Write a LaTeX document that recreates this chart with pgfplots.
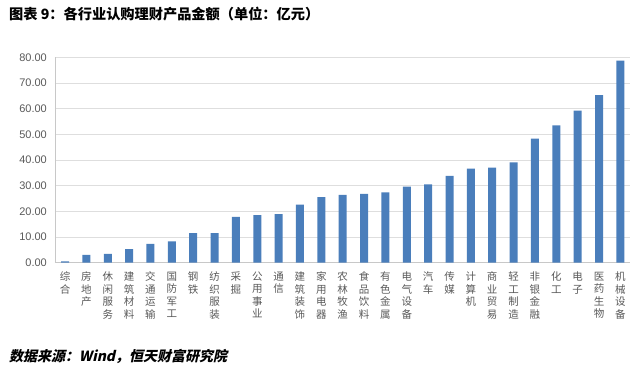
\documentclass[border=0pt]{standalone}
\usepackage{fontspec}
\usepackage{pgfplots}
\pgfplotsset{compat=1.18}
\setmainfont{Liberation Sans}
\newfontfamily\cjk{Noto Sans CJK SC}
\newfontfamily\cjkslant[FakeSlant=0.22]{Noto Sans CJK SC}
\definecolor{barblue}{RGB}{74,126,187}
\definecolor{gridgray}{RGB}{222,222,222}
\definecolor{axisgray}{RGB}{200,200,200}
\definecolor{labgray}{RGB}{89,89,89}
\begin{document}
\begin{tikzpicture}[x=1pt,y=1pt]
\useasboundingbox (0pt,0pt) rectangle (640pt,371pt);
\node[anchor=west, inner sep=0pt, font=\cjk\bfseries\fontsize{14.2}{16}\selectfont] at (9pt,357pt) {图表 9：各行业认购理财产品金额（单位：亿元）};
\node[anchor=west, inner sep=0pt, font=\cjkslant\bfseries\fontsize{14}{16}\selectfont] at (9pt,15pt) {数据来源：Wind，恒天财富研究院};
\begin{axis}[
 at={(55pt,108.3pt)}, anchor=south west,
 width=575pt, height=205.4pt, scale only axis,
 xmin=-0.47, xmax=26.45, ymin=0, ymax=80,
 ybar, bar width=8pt,
 axis lines*=left,
 axis line style={draw=axisgray, -},
 ymajorgrids, major grid style={draw=gridgray},
 major tick length=0pt,
 ytick={0,10,20,30,40,50,60,70,80},
 yticklabels={0.00,10.00,20.00,30.00,40.00,50.00,60.00,70.00,80.00},
 yticklabel style={font=\fontsize{11}{12}\selectfont, text=labgray, anchor=east, inner sep=0pt, xshift=-8pt},
 xtick={0,1,...,26},
 xticklabels={{综\\合},{房\\地\\产},{休\\闲\\服\\务},{建\\筑\\材\\料},{交\\通\\运\\输},{国\\防\\军\\工},{钢\\铁},{纺\\织\\服\\装},{采\\掘},{公\\用\\事\\业},{通\\信},{建\\筑\\装\\饰},{家\\用\\电\\器},{农\\林\\牧\\渔},{食\\品\\饮\\料},{有\\色\\金\\属},{电\\气\\设\\备},{汽\\车},{传\\媒},{计\\算\\机},{商\\业\\贸\\易},{轻\\工\\制\\造},{非\\银\\金\\融},{化\\工},{电\\子},{医\\药\\生\\物},{机\\械\\设\\备}},
 xticklabel style={font=\cjk\fontsize{10.5}{12.5}\selectfont, text=labgray, align=center, anchor=north, inner sep=0pt, yshift=-9pt},
 clip=false,
]
\addplot[fill=barblue, draw=none] coordinates {
(0,0.5) (1,3.0) (2,3.4) (3,5.3) (4,7.3) (5,8.3) (6,11.5) (7,11.5) (8,17.8) (9,18.5)
(10,18.9) (11,22.6) (12,25.5) (13,26.4) (14,26.8) (15,27.4) (16,29.6) (17,30.5)
(18,33.8) (19,36.6) (20,37.0) (21,39.1) (22,48.3) (23,53.5) (24,59.2) (25,65.3) (26,78.7)
};
\end{axis}
\end{tikzpicture}
\end{document}
